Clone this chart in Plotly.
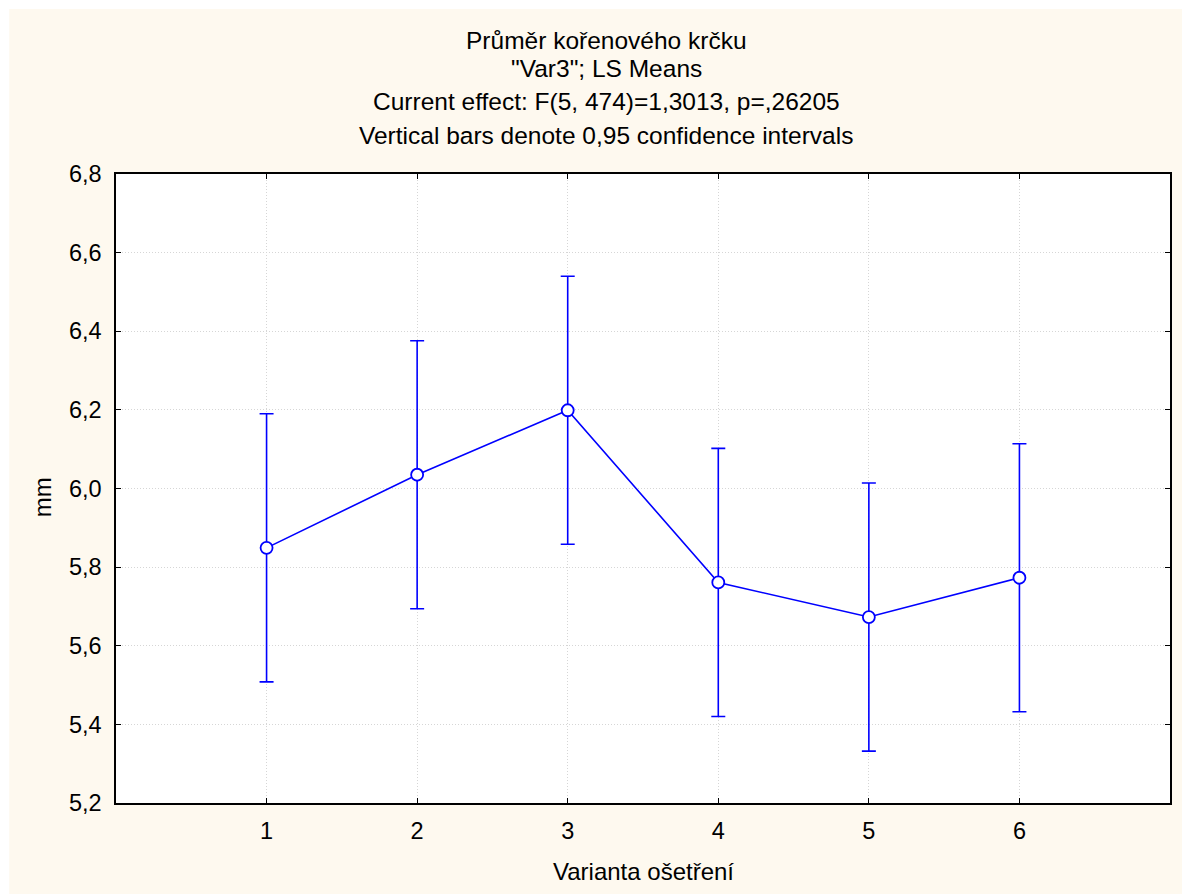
import plotly.graph_objects as go

# LS means of root-collar diameter per treatment variant, with 95% CI bounds
variants = [1, 2, 3, 4, 5, 6]
means = [5.849, 6.035, 6.199, 5.761, 5.673, 5.773]
upper = [6.190, 6.376, 6.540, 6.102, 6.014, 6.114]
lower = [5.508, 5.694, 5.858, 5.420, 5.332, 5.432]

y_ticks = [5.2, 5.4, 5.6, 5.8, 6.0, 6.2, 6.4, 6.6, 6.8]
y_tick_text = [f"{v:.1f}".replace(".", ",") for v in y_ticks]
x_ticks = [1, 2, 3, 4, 5, 6]

title_lines = [
    "Průměr kořenového krčku",
    "\"Var3\"; LS Means",
    "Current effect: F(5, 474)=1,3013, p=,26205",
    "Vertical bars denote 0,95 confidence intervals",
]

BLUE = "#0000FF"
CREAM = "#FEF9EF"
FONT = "Liberation Sans, Arial"
W, H = 1182, 894
ML, MR, MT, MB = 116, 10, 174, 91
PW, PH = W - ML - MR, H - MT - MB

err_plus = [u - m for u, m in zip(upper, means)]
err_minus = [m - l for m, l in zip(means, lower)]

fig = go.Figure()
fig.add_trace(go.Scatter(
    x=variants, y=means, mode="lines+markers",
    line=dict(color=BLUE, width=1.6),
    marker=dict(symbol="circle", size=12, color="white",
                line=dict(color=BLUE, width=1.8)),
    error_y=dict(type="data", symmetric=False, array=err_plus,
                 arrayminus=err_minus, color=BLUE, thickness=1.6, width=7),
    showlegend=False,
))

def px_x(p):
    return (p - ML) / PW

def px_y(p):
    return 1 - (p - MT) / PH

shapes = [
    # cream page area, leaving a thin white strip at top and left
    dict(type="rect", xref="paper", yref="paper", layer="below",
         x0=px_x(9), x1=px_x(W + 5), y0=px_y(H + 5), y1=px_y(9),
         fillcolor=CREAM, line=dict(width=0)),
    # white plotting area
    dict(type="rect", xref="paper", yref="paper", layer="below",
         x0=0, x1=1, y0=0, y1=1, fillcolor="white", line=dict(width=0)),
]

annotations = []
title_y = [41, 69, 101, 135]
for txt, yp in zip(title_lines, title_y):
    annotations.append(dict(
        text=txt, xref="paper", yref="paper", x=px_x(607), y=px_y(yp),
        xanchor="center", yanchor="middle", showarrow=False,
        font=dict(family=FONT, size=24.5, color="black"),
    ))

# axis titles placed as annotations for exact positioning
annotations.append(dict(
    text="Varianta ošetření", xref="paper", yref="paper",
    x=px_x(644), y=px_y(872), xanchor="center", yanchor="middle",
    showarrow=False, font=dict(family=FONT, size=24, color="black"),
))
annotations.append(dict(
    text="mm", xref="paper", yref="paper", textangle=-90,
    x=px_x(42), y=px_y(497), xanchor="center", yanchor="middle",
    showarrow=False, font=dict(family=FONT, size=24, color="black"),
))

axis_common = dict(
    showline=True, linecolor="black", linewidth=1.5, mirror="ticks",
    ticks="inside", ticklen=5, tickcolor="black", tickwidth=1,
    showgrid=True, gridcolor="#d6d6d6", griddash="1px,2px", gridwidth=1,
    zeroline=False,
    tickfont=dict(family=FONT, size=23.5, color="black"),
)

fig.update_layout(
    width=W, height=H,
    margin=dict(l=ML, r=MR, t=MT, b=MB),
    paper_bgcolor="white", plot_bgcolor="white",
    shapes=shapes, annotations=annotations,
    xaxis=dict(range=[0, 7], tickvals=x_ticks, ticklabelstandoff=6,
               **axis_common),
    yaxis=dict(range=[5.2, 6.8], tickvals=y_ticks, ticktext=y_tick_text,
               ticklabelstandoff=8, **axis_common),
)

fig.write_html("out.html")
